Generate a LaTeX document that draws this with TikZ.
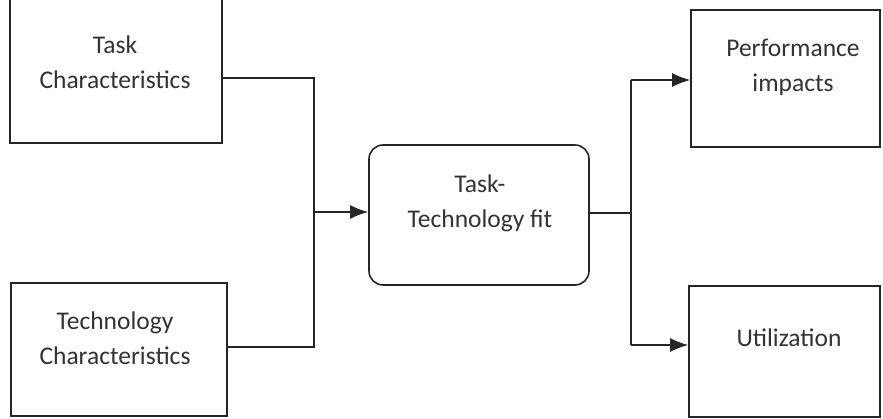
\documentclass[tikz,border=0pt]{standalone}
\usepackage{fontspec}
\setmainfont{Carlito}
\usetikzlibrary{arrows.meta}
\begin{document}
\begin{tikzpicture}[x=1pt,y=-1pt,
  box/.style={draw=black!85,line width=1.6pt,fill=white,minimum width=#1},
  lbl/.style={align=center,text=black!80,font=\fontsize{25.5}{35}\selectfont,inner sep=0pt},
  conn/.style={draw=black!85,line width=1.6pt},
  arr/.style={conn,-{Latex[length=18pt,width=14pt]}}]
\useasboundingbox (0,0) rectangle (883,419);
\clip (0,0) rectangle (883,419);
% boxes
\node[box=212pt,minimum height=163pt,inner sep=0pt] (task) at (116,61.5) {};
\node[box=216pt,minimum height=133pt,inner sep=0pt] (tech) at (119,349.5) {};
\node[box=220pt,minimum height=140pt,inner sep=0pt,rounded corners=14pt] (fit) at (479,215) {};
\node[box=189pt,minimum height=137pt,inner sep=0pt] (perf) at (785.5,78.5) {};
\node[box=191pt,minimum height=131pt,inner sep=0pt] (util) at (784.5,351.5) {};
% texts
\node[lbl] (tasktxt) at (115,62) {Task\\Characteristics};
\node[lbl] (techtxt) at (115,338) {Technology\\Characteristics};
\node[lbl] (fittxt) at (480,203.5) {Task-\\Technology fit};
\node[lbl] (perftxt) at (793,67.5) {Performance\\impacts};
\node[lbl] (utiltxt) at (789,338) {Utilization};
% connectors
\coordinate (jt) at (314,78);
\coordinate (jm) at (314,212);
\coordinate (jb) at (314,347);
\coordinate (kt) at (631,80);
\coordinate (km) at (631,213);
\coordinate (kb) at (631,345);
\draw[conn] (task.east |- jt) -- (jt) -- (jb) -- (tech.east |- jb);
\draw[arr] (jm) -- (fit.west |- jm);
\draw[conn] (fit.east |- km) -- (km);
\draw[conn] (kt) -- (kb);
\draw[arr] (kt) -- (perf.west |- kt);
\draw[arr] (kb) -- (util.west |- kb);
\end{tikzpicture}
\end{document}
